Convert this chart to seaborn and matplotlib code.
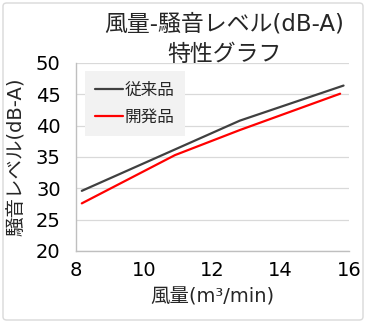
import matplotlib
matplotlib.use("Agg")
import matplotlib.pyplot as plt
from matplotlib.patches import FancyBboxPatch
import seaborn as sns
import pandas as pd

# Airflow (m3/min) vs noise level (dB-A)
series_names = ["従来品", "開発品"]
airflow_conventional = [8.17, 12.8, 15.84]
noise_conventional = [29.6, 40.8, 46.4]
airflow_developed = [8.17, 10.9, 12.8, 15.74]
noise_developed = [27.6, 35.3, 39.3, 45.1]
x_ticks = [8, 10, 12, 14, 16]
y_ticks = [20, 25, 30, 35, 40, 45, 50]

df = pd.concat([
    pd.DataFrame({"風量": airflow_conventional, "騒音": noise_conventional, "製品": series_names[0]}),
    pd.DataFrame({"風量": airflow_developed, "騒音": noise_developed, "製品": series_names[1]}),
], ignore_index=True)

sns.set_theme(style="white")
plt.rcParams["font.family"] = ["DejaVu Sans", "Noto Sans CJK JP"]

W, H = 373, 324
fig = plt.figure(figsize=(W / 100, H / 100), dpi=100)
ax = fig.add_axes([76 / W, 1 - 251 / H, (349 - 76) / W, (251 - 63) / H])

sns.lineplot(data=df, x="風量", y="騒音", hue="製品", sort=False,
             palette={series_names[0]: "#404040", series_names[1]: "#ff0000"},
             linewidth=1.6, ax=ax, legend=True)

ax.set_xlim(8, 16)
ax.set_ylim(20, 50)
ax.set_xticks(x_ticks)
ax.set_yticks(y_ticks)
ax.tick_params(axis="both", labelsize=14, length=0, colors="#000000")
ax.tick_params(axis="x", pad=7)
ax.tick_params(axis="y", pad=11)
ax.grid(axis="y", color="#d9d9d9", linewidth=0.9)
ax.set_axisbelow(True)
for side in ["top", "right"]:
    ax.spines[side].set_visible(False)
for side in ["left", "bottom"]:
    ax.spines[side].set_color("#bfbfbf")
    ax.spines[side].set_linewidth(1.0)

ax.set_xlabel("風量(m³/min)", fontsize=14, color="#262626")
ax.set_ylabel("騒音レベル(dB-A)", fontsize=14, color="#262626")
ax.xaxis.set_label_coords((212 - 76) / (349 - 76), -(297 - 251) / (251 - 63))
ax.yaxis.set_label_coords(-(76 - 16) / (349 - 76), (251 - 157) / (251 - 63))
ax.xaxis.label.set_va("center")
ax.yaxis.label.set_va("center")

leg = ax.legend(loc="upper left", bbox_to_anchor=(9 / 273, 1 - 8 / 188), fontsize=12,
                frameon=True, fancybox=False, handlelength=1.7, handletextpad=0.1,
                labelspacing=0.55, borderpad=0.6, borderaxespad=0)
leg.get_frame().set_facecolor("#f2f2f2")
leg.get_frame().set_edgecolor("none")
leg.get_frame().set_alpha(1)

fig.text(224 / W, 1 - 24 / H, "風量-騒音レベル(dB-A)", ha="center", va="center",
         fontsize=16.5, color="#262626")
fig.text(224 / W, 1 - 54 / H, "特性グラフ", ha="center", va="center",
         fontsize=16.5, color="#262626")

border = FancyBboxPatch((3 / W, 4 / H), 360 / W, 317 / H,
                        boxstyle="round,pad=0,rounding_size=0.01",
                        transform=fig.transFigure, facecolor="none",
                        edgecolor="#d9d9d9", linewidth=1.0)
fig.patches.append(border)

fig.savefig("out.png", dpi=100)
